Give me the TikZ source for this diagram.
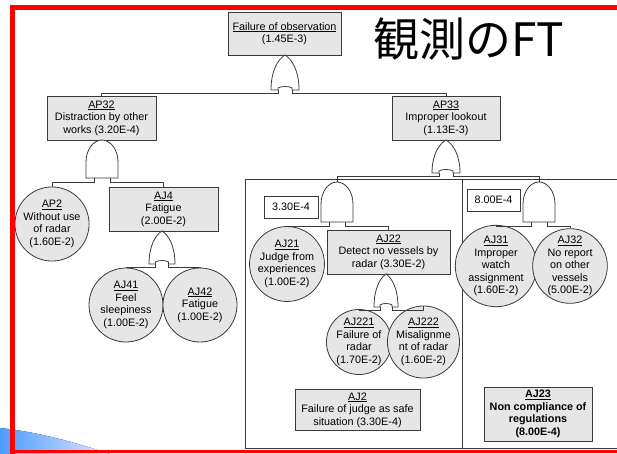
\documentclass[tikz,border=0pt]{standalone}
\usepackage{fontspec}
\setmainfont{Liberation Sans}
\newfontfamily\cjk{Noto Sans CJK JP}
\definecolor{linec}{HTML}{3A3A3A}
\definecolor{boxfill}{HTML}{E6E6E6}
\definecolor{framered}{HTML}{FF0000}
\newcommand\lab{\fontsize{10.8}{12.5}\selectfont}
\newcommand\ORgate[5]{%
 \draw[gate] ({#2-#4},{#3+#5}) .. controls ({#2-#4},{#3+0.45*#5}) and ({#2-0.5*#4},{#3+0.12*#5}) .. (#2,#3)
   .. controls ({#2+0.5*#4},{#3+0.12*#5}) and ({#2+#4},{#3+0.45*#5}) .. ({#2+#4},{#3+#5})
   -- ({#2+0.5*#4},{#3+#5}) -- ({#2+0.5*#4},{#3+#5-2})
   .. controls ({#2+0.3*#4},{#3+#5-4}) and ({#2-0.3*#4},{#3+#5-4}) .. ({#2-0.5*#4},{#3+#5-2})
   -- ({#2-0.5*#4},{#3+#5}) -- cycle;
 \coordinate (#1-in) at (#2,#3);
 \coordinate (#1-l) at ({#2-0.5*#4},{#3+#5});
 \coordinate (#1-r) at ({#2+0.5*#4},{#3+#5});}
\newcommand\ANDgate[6]{%
 \draw[gate] ({#2-#4},{#3+#5}) -- ({#2-#4},{#3+#6})
   .. controls ({#2-#4},{#3+0.45*#6}) and ({#2-0.55*#4},#3) .. (#2,#3)
   .. controls ({#2+0.55*#4},#3) and ({#2+#4},{#3+0.45*#6}) .. ({#2+#4},{#3+#6})
   -- ({#2+#4},{#3+#5}) -- cycle;
 \coordinate (#1-in) at (#2,#3);
 \coordinate (#1-l) at ({#2-0.5*#4},{#3+#5});
 \coordinate (#1-r) at ({#2+0.5*#4},{#3+#5});}
\tikzset{
 gate/.style={draw=linec, fill=white, line width=0.8pt},
 conn/.style={draw=linec, line width=0.8pt},
 evbox/.style={draw=linec, fill=boxfill, line width=0.8pt, inner sep=1pt, align=center, font=\lab},
 evcirc/.style={circle, draw=linec, fill=boxfill, line width=0.8pt, inner sep=0pt, align=center, font=\lab},
 valbox/.style={draw=linec, fill=white, line width=0.8pt, inner sep=1pt, align=center, font=\lab},
 bigbox/.style={draw=linec, line width=0.8pt}
}
\begin{document}
\begin{tikzpicture}[x=1pt,y=-1pt]
\useasboundingbox (0,0) rectangle (617,454);
% background decoration
\fill[left color=blue!55!cyan!70!white, right color=blue!10!white] (0,428) .. controls (40,432) and (80,444) .. (110,454) -- (0,454) -- cycle;
% group frames
\draw[bigbox] (617,179) -- (245,179) -- (245,448) -- (617,448);
\draw[bigbox] (462,179) -- (462,448);
% title
\node[anchor=west, inner sep=0pt, font=\cjk\fontsize{46}{46}\selectfont] (title) at (373,39) {観測のFT};
% events
\node[evbox, minimum width=113pt, minimum height=43pt] (top) at (284.5,33.5) {\underline{Failure of observation}\\(1.45E-3)};
\node[evbox, minimum width=109pt, minimum height=44pt] (ap32) at (101.5,118) {\underline{AP32}\\Distraction by other\\works (3.20E-4)};
\node[evbox, minimum width=108pt, minimum height=44pt] (ap33) at (446,118) {\underline{AP33}\\Improper lookout\\(1.13E-3)};
\node[evcirc, minimum size=73pt] (ap2) at (52,224) {\underline{AP2}\\Without use\\of radar\\(1.60E-2)};
\node[evbox, minimum width=109pt, minimum height=44pt] (aj4) at (163.5,209) {\underline{AJ4}\\Fatigue\\(2.00E-2)};
\node[evcirc, minimum size=74pt] (aj41) at (126,305) {\underline{AJ41}\\Feel\\sleepiness\\(1.00E-2)};
\node[evcirc, minimum size=74pt] (aj42) at (200,305) {\underline{AJ42}\\Fatigue\\(1.00E-2)};
\node[valbox, minimum width=54pt, minimum height=22pt] (v1) at (291,207) {3.30E-4};
\node[evcirc, minimum size=72pt] (aj21) at (287,264) {\underline{AJ21}\\Judge from\\experiences\\(1.00E-2)};
\node[evbox, minimum width=123pt, minimum height=44pt] (aj22) at (388.5,252) {\underline{AJ22}\\Detect no vessels by\\radar (3.30E-2)};
\node[evcirc, minimum size=65pt] (aj221) at (359,342) {\underline{AJ221}\\Failure of\\radar\\(1.70E-2)};
\node[evcirc, minimum size=65pt] (aj222) at (423.5,342) {\underline{AJ222}\\Misalignme\\nt of radar\\(1.60E-2)};
\node[evbox, minimum width=125pt, minimum height=41pt] (aj2) at (357.5,410) {\underline{AJ2}\\Failure of judge as safe\\situation (3.30E-4)};
\node[valbox, minimum width=53pt, minimum height=22pt] (v2) at (493.5,200) {8.00E-4};
\node[evcirc, minimum size=74pt] (aj31) at (496,266) {\underline{AJ31}\\Improper\\watch\\assignment\\(1.60E-2)};
\node[evcirc, minimum size=74pt] (aj32) at (570,266) {\underline{AJ32}\\No report\\on other\\vessels\\(5.00E-2)};
\node[evbox, minimum width=108pt, minimum height=54pt, font=\lab\bfseries] (aj23) at (538,414) {\underline{AJ23}\\Non compliance of\\regulations\\(8.00E-4)};
% gates
\ORgate{g0}{285}{55}{14}{35}
\ANDgate{g1}{102}{140}{16}{38}{22}
\ORgate{g2}{446}{140}{14}{33}
\ORgate{g3}{162}{231}{13}{33}
\ANDgate{g4}{337}{182}{16}{40}{22}
\ANDgate{g5}{539}{182}{16}{40}{22}
\ORgate{g6}{386}{274}{12}{33}
% connectors
\draw[conn] (top.south) -- (g0-in);
\draw[conn] (g0-l) -- ++(0,3) -| (ap32.north);
\draw[conn] (g0-r) -- ++(0,3) -| (ap33.north);
\draw[conn] (ap32.south) -- (g1-in);
\draw[conn] (g1-l) -- ++(0,4) -| (ap2.north);
\draw[conn] (g1-r) -- ++(0,4) -| (aj4.north);
\draw[conn] (aj4.south) -- (g3-in);
\draw[conn] (g3-l) -- ++(0,3) -| (aj41.north);
\draw[conn] (g3-r) -- ++(0,3) -| (aj42.north);
\draw[conn] (ap33.south) -- (g2-in);
\draw[conn] (g2-l) -- ++(0,3) -| (g4-in);
\draw[conn] (g2-r) -- ++(0,3) -| (g5-in);
\draw[conn] (g4-l) -- ++(0,4) -| (aj21.north);
\draw[conn] (g4-r) -- ++(0,4) -| (aj22.north);
\draw[conn] (aj22.south) -- (g6-in);
\draw[conn] (g6-l) -- ++(0,3) -| (aj221.north);
\draw[conn] (g6-r) -- ++(0,3) -| (aj222.north);
\draw[conn] (g5-l) -- ++(0,4) -| (aj31.north);
\draw[conn] (g5-r) -- ++(0,4) -| (aj32.north);
% slide frame (filled bands)
\fill[framered] (9.5,5.5) rectangle (617,10.5);
\fill[framered] (9.5,5.5) rectangle (14.5,454);
\fill[framered] (9.5,449.5) rectangle (617,452.5);
\end{tikzpicture}
\end{document}
